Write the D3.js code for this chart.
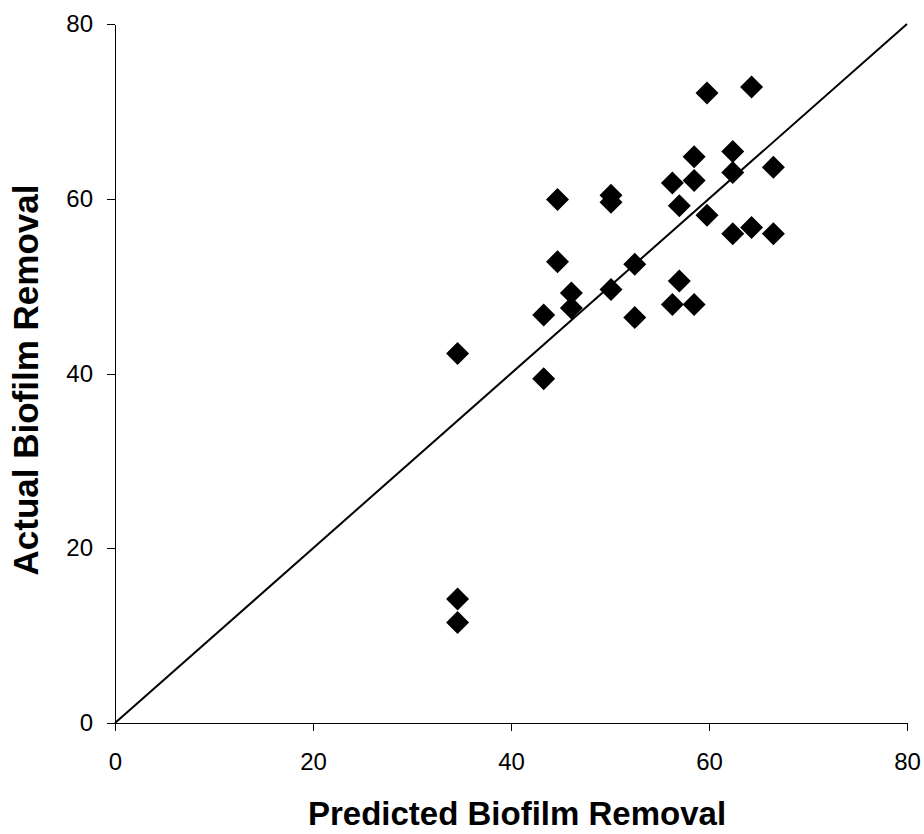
<!DOCTYPE html>
<html><head><meta charset="utf-8">
<script src="https://cdn.jsdelivr.net/npm/d3@7"></script>
<style>body{margin:0;background:#fff}svg{display:block}</style>
</head><body>
<script>
const predicted = [59.8,64.3,58.5,62.4,62.4,66.5,56.3,58.5,57.0,59.8,62.4,64.3,66.5,44.7,50.1,50.1,44.7,52.5,50.1,46.1,46.1,43.3,52.5,57.0,56.3,58.5,34.6,43.3,34.6,34.6];
const actual    = [72.1,72.8,64.8,65.4,63.0,63.6,61.8,62.1,59.2,58.1,56.0,56.7,56.0,59.9,60.4,59.6,52.8,52.5,49.6,49.2,47.5,46.7,46.4,50.6,47.9,47.9,42.3,39.4,14.2,11.5];
const xTicks = [0,20,40,60,80];
const yTicks = [0,20,40,60,80];
const xTitle = "Predicted Biofilm Removal";
const yTitle = "Actual Biofilm Removal";

const W=924,H=834;
const svg=d3.select("body").append("svg").attr("width",W).attr("height",H);
const x=d3.scaleLinear().domain([0,80]).range([115,907]);
const y=d3.scaleLinear().domain([0,80]).range([723,24]);
const font="Liberation Sans, Arial, sans-serif";

const xa=svg.append("g").attr("transform","translate(0,723)")
  .call(d3.axisBottom(x).tickValues(xTicks).tickSize(8).tickPadding(22).tickSizeOuter(0));
const ya=svg.append("g").attr("transform","translate(115,0)")
  .call(d3.axisLeft(y).tickValues(yTicks).tickSize(8).tickPadding(14).tickSizeOuter(0));
[xa,ya].forEach(a=>{
  a.attr("font-size",null).attr("font-family",null);
  a.selectAll("path,line").attr("stroke","#000").attr("stroke-width",1).attr("shape-rendering","crispEdges");
  a.selectAll("text").style("font-family",font).style("font-size","24px").attr("fill","#000");
});

svg.append("line").attr("x1",x(0)).attr("y1",y(0)).attr("x2",x(80)).attr("y2",y(80))
  .attr("stroke","#000").attr("stroke-width",2);

const r=11.5;
svg.append("g").selectAll("path").data(predicted.map((p,i)=>[p,actual[i]])).join("path")
  .attr("d",d=>{const cx=x(d[0]),cy=y(d[1]);return `M${cx},${cy-r}L${cx+r},${cy}L${cx},${cy+r}L${cx-r},${cy}Z`;})
  .attr("fill","#000");

svg.append("text").attr("x",517).attr("y",825).attr("text-anchor","middle")
  .attr("font-family",font).attr("font-weight","bold").attr("font-size",33).text(xTitle);
svg.append("text").attr("transform","translate(38,380) rotate(-90)").attr("text-anchor","middle")
  .attr("font-family",font).attr("font-weight","bold").attr("font-size",35).text(yTitle);
</script>
</body></html>
